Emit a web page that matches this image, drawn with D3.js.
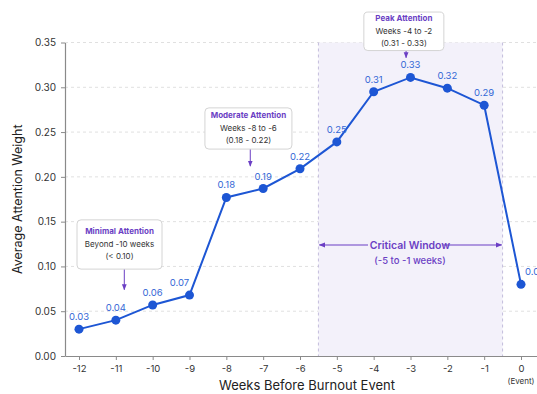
<!DOCTYPE html>
<html>
<head>
<meta charset="utf-8">
<script src="https://cdn.jsdelivr.net/npm/d3@7"></script>
<style>
    body { margin: 0; background: #fff; font-family: Inter, "Noto Sans", sans-serif; }
    svg { display: block; }
</style>
</head>
<body>
<svg id="chart"></svg>
<script>
// data
const weeks = [-12, -11, -10, -9, -8, -7, -6, -5, -4, -3, -2, -1, 0];
const attention = [0.030, 0.040, 0.057, 0.068, 0.177, 0.187, 0.209, 0.239, 0.295, 0.311, 0.299, 0.280, 0.080];
const pointLabels = ["0.03", "0.04", "0.06", "0.07", "0.18", "0.19", "0.22", "0.25", "0.31", "0.33", "0.32", "0.29", "0.08"];
const yTicks = [0, 0.05, 0.10, 0.15, 0.20, 0.25, 0.30, 0.35];
const criticalWindow = [-5.5, -0.5];

const annTitles = ["Minimal Attention", "Moderate Attention", "Peak Attention"];
const annLine1 = ["Beyond -10 weeks", "Weeks -8 to -6", "Weeks -4 to -2"];
const annLine2 = ["(< 0.10)", "(0.18 - 0.22)", "(0.31 - 0.33)"];

class LineChart {
    margin = { top: 42, right: 0, bottom: 38, left: 65 };

    constructor(svg, width = 537, height = 394) {
        this.svg = d3.select(svg);
        this.width = width;
        this.height = height;
    }

    initialize() {
        this.svg.attr("width", this.width).attr("height", this.height);

        this.x = d3.scaleLinear().domain([-12.38, 0.76]).range([this.margin.left, 549]);
        this.y = d3.scaleLinear().domain([0, 0.35]).range([356, 42.5]);
    }

    render() {
        let x = this.x, y = this.y;
        let svg = this.svg;
        let purple = "#6b3fc4";
        let blue = "#1d56d4";

        // grid
        svg.append("g").selectAll("line")
            .data(yTicks.slice(1))
            .join("line")
            .attr("x1", x(-12.38)).attr("x2", 549)
            .attr("y1", d => y(d)).attr("y2", d => y(d))
            .attr("stroke", "#e0e0e0")
            .attr("stroke-dasharray", "3,3");

        // critical window
        let cw = svg.append("g");
        cw.append("rect")
            .attr("x", x(criticalWindow[0]))
            .attr("y", y(0.35))
            .attr("width", x(criticalWindow[1]) - x(criticalWindow[0]))
            .attr("height", y(0) - y(0.35))
            .attr("fill", "#f3f1fa");
        cw.selectAll("line")
            .data(criticalWindow)
            .join("line")
            .attr("x1", d => x(d)).attr("x2", d => x(d))
            .attr("y1", y(0.35)).attr("y2", y(0))
            .attr("stroke", "#c3bcdc")
            .attr("stroke-dasharray", "3,3");

        let defs = svg.append("defs");
        defs.append("marker")
            .attr("id", "arrow")
            .attr("viewBox", "0 0 10 10")
            .attr("refX", 9).attr("refY", 5)
            .attr("markerWidth", 6).attr("markerHeight", 6)
            .attr("orient", "auto-start-reverse")
            .append("path")
            .attr("d", "M0,1 L10,5 L0,9 z")
            .attr("fill", purple);

        let cy = y(0.124);
        cw.append("line")
            .attr("x1", 368).attr("x2", x(criticalWindow[0]) + 1)
            .attr("y1", cy).attr("y2", cy)
            .attr("stroke", purple).attr("stroke-width", 1.1)
            .attr("marker-end", "url(#arrow)");
        cw.append("line")
            .attr("x1", 443).attr("x2", x(criticalWindow[1]) - 1)
            .attr("y1", cy).attr("y2", cy)
            .attr("stroke", purple).attr("stroke-width", 1.1)
            .attr("marker-end", "url(#arrow)");
        cw.append("text")
            .attr("x", 410).attr("y", cy + 4)
            .attr("text-anchor", "middle")
            .attr("fill", purple)
            .style("font-size", "10.5px")
            .style("font-weight", 600)
            .text("Critical Window");
        cw.append("text")
            .attr("x", 410).attr("y", cy + 19)
            .attr("text-anchor", "middle")
            .attr("fill", purple)
            .style("font-size", "9.5px")
            .style("font-weight", 500)
            .text("(-5 to -1 weeks)");

        // axes
        let xAxis = svg.append("g")
            .attr("transform", `translate(0, ${y(0)})`)
            .call(d3.axisBottom(x).tickValues(weeks).tickSize(4).tickSizeOuter(0).tickPadding(5));
        xAxis.select(".domain").attr("stroke", "#8a8a8a").attr("stroke-width", 1.2);
        xAxis.selectAll(".tick line").attr("stroke", "#8a8a8a");
        xAxis.selectAll(".tick text")
            .attr("fill", "#333")
            .style("font-size", "9.5px")
            .style("font-family", "Inter, sans-serif")
            .text(d => d);
        xAxis.append("text")
            .attr("x", x(0)).attr("y", 28)
            .attr("text-anchor", "middle")
            .attr("fill", "#333")
            .style("font-size", "8px")
            .style("font-family", "Inter, sans-serif")
            .text("(Event)");

        let yAxis = svg.append("g")
            .attr("transform", `translate(${this.margin.left}, 0)`)
            .call(d3.axisLeft(y).tickValues(yTicks).tickFormat(d3.format(".2f")).tickSize(4).tickSizeOuter(0).tickPadding(5));
        yAxis.select(".domain").attr("stroke", "#8a8a8a").attr("stroke-width", 1.2);
        yAxis.selectAll(".tick line").attr("stroke", "#8a8a8a");
        yAxis.selectAll(".tick text")
            .attr("fill", "#333")
            .style("font-size", "10px")
            .style("font-family", "Inter, sans-serif");

        svg.append("text")
            .attr("transform", `translate(18, ${(y(0) + y(0.35)) / 2}) rotate(-90)`)
            .attr("text-anchor", "middle")
            .attr("dy", "0.35em")
            .attr("fill", "#222")
            .style("font-size", "12.5px")
            .text("Average Attention Weight");
        svg.append("text")
            .attr("x", 307).attr("y", 390)
            .attr("text-anchor", "middle")
            .attr("fill", "#222")
            .style("font-size", "13px")
            .text("Weeks Before Burnout Event");

        // line + points
        let pts = weeks.map((w, i) => [w, attention[i]]);
        svg.append("path")
            .datum(pts)
            .attr("fill", "none")
            .attr("stroke", blue)
            .attr("stroke-width", 2)
            .attr("d", d3.line().x(d => x(d[0])).y(d => y(d[1])));
        svg.append("g").selectAll("circle")
            .data(pts)
            .join("circle")
            .attr("cx", d => x(d[0]))
            .attr("cy", d => y(d[1]))
            .attr("r", 4.5)
            .attr("fill", blue);

        // label nudges (px)
        let dx = i => i === 3 ? -10 : (i === 12 ? 14 : 0);
        svg.append("g").selectAll("text")
            .data(pts)
            .join("text")
            .attr("x", (d, i) => x(d[0]) + dx(i))
            .attr("y", d => y(d[1]) - 9)
            .attr("text-anchor", "middle")
            .attr("fill", "#3468d6")
            .style("font-size", "9.5px")
            .text((d, i) => pointLabels[i]);

        // annotation boxes
        let anns = [
            { cx: -10.9, top: 0.152, bottom: 0.097, tip: 0.074, ax: -10.77, w: 85 },
            { cx: -7.4, top: 0.277, bottom: 0.231, tip: 0.212, ax: -7.35, w: 87 },
            { cx: -3.18, top: 0.384, bottom: 0.341, tip: 0.333, ax: -3.12, w: 80 }
        ];
        let ag = svg.append("g");
        anns.forEach((a, i) => {
            let top = y(a.top), bot = y(a.bottom);
            ag.append("line")
                .attr("x1", x(a.ax)).attr("x2", x(a.ax))
                .attr("y1", bot).attr("y2", y(a.tip))
                .attr("stroke", purple).attr("stroke-width", 1)
                .attr("marker-end", "url(#arrow)");
            ag.append("rect")
                .attr("x", x(a.cx) - a.w / 2).attr("y", top)
                .attr("width", a.w).attr("height", bot - top)
                .attr("rx", 4)
                .attr("fill", "#fff")
                .attr("stroke", "#d4d4d4");
            let mid = (top + bot) / 2;
            ag.append("text")
                .attr("x", x(a.cx)).attr("y", mid - 10)
                .attr("text-anchor", "middle")
                .attr("fill", purple)
                .style("font-size", "8px").style("font-weight", 700)
                .text(annTitles[i]);
            ag.append("text")
                .attr("x", x(a.cx)).attr("y", mid + 3)
                .attr("text-anchor", "middle")
                .attr("fill", "#333")
                .style("font-size", "8px")
                .text(annLine1[i]);
            ag.append("text")
                .attr("x", x(a.cx)).attr("y", mid + 15)
                .attr("text-anchor", "middle")
                .attr("fill", "#333")
                .style("font-size", "8px")
                .text(annLine2[i]);
        });
    }
}

let chart = new LineChart("#chart");
chart.initialize();
chart.render();
</script>
</body>
</html>
